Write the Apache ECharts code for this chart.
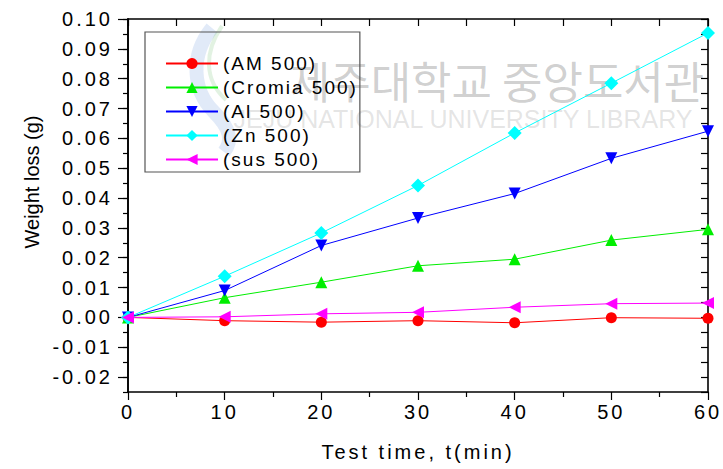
<!DOCTYPE html>
<html><head><meta charset="utf-8">
<script src="https://cdn.jsdelivr.net/npm/echarts@6/dist/echarts.min.js"></script>
<style>
html,body{margin:0;padding:0;background:#fff}
#main{width:723px;height:469px}
#main text[style*="20px"]:not([style*="Arial"]){letter-spacing:3px}
#main text[style*="19px"]{letter-spacing:2px}
</style></head><body><div id="main"></div>
<script>
const times = [0, 10, 20, 30, 40, 50, 60];
const seriesNames = ['(AM 500)', '(Cromia 500)', '(Al 500)', '(Zn 500)', '(sus 500)'];
const am500 = [0, -0.0011, -0.0016, -0.0011, -0.0018, -0.0001, -0.0003];
const cromia500 = [0, 0.0066, 0.0118, 0.0173, 0.0195, 0.0259, 0.0295];
const al500 = [0, 0.0090, 0.0241, 0.0333, 0.0415, 0.0533, 0.0624];
const zn500 = [0, 0.0138, 0.0283, 0.0442, 0.0618, 0.0785, 0.0953];
const sus500 = [0, 0.0002, 0.0012, 0.0017, 0.0034, 0.0046, 0.0048];
const yTickValues = [-0.02, -0.01, 0, 0.01, 0.02, 0.03, 0.04, 0.05, 0.06, 0.07, 0.08, 0.09, 0.10];
const xTitle = 'Test time, t(min)';
const yTitle = 'Weight loss (g)';
const watermarkKo = '제주대학교 중앙도서관';
const watermarkEn = 'JEJU NATIONAL UNIVERSITY LIBRARY';

const colors = ['#ff0000', '#00ee00', '#0000ff', '#00ffff', '#ff00ff'];
const values = [am500, cromia500, al500, zn500, sus500];
const symbols = ['circle', 'triangle', 'triangle', 'diamond', 'triangle'];
const rotates = [0, 0, 180, 0, 90];
const sizes = [11, 12, 12, 14, 12];

const chart = echarts.init(document.getElementById('main'), null, {renderer: 'svg'});
const FF = 'Liberation Sans';
const axisLine = {show: true, onZero: false, lineStyle: {color: '#000', width: 1.6}};

chart.setOption({
  animation: false,
  backgroundColor: '#fff',
  grid: {left: 128, right: 15, top: 19, bottom: 77},
  legend: {
    orient: 'vertical', left: 145, top: 32,
    padding: [22, 26, 3, 20],
    itemWidth: 52, itemHeight: 14, itemGap: 5,
    borderColor: '#555', borderWidth: 1.2,
    textStyle: {fontFamily: FF, fontSize: 19, color: '#000'},
    data: seriesNames
  },
  xAxis: [
    {type: 'value', position: 'bottom', min: 0, max: 60, interval: 10,
     axisLine: axisLine,
     axisTick: {show: true, inside: false, length: 8, lineStyle: {color: '#000', width: 1.2}},
     minorTick: {show: true, splitNumber: 2, length: 5, lineStyle: {color: '#000', width: 1.2}},
     axisLabel: {margin: 10, color: '#000', fontFamily: FF, fontSize: 20},
     splitLine: {show: false},
     name: xTitle, nameLocation: 'middle', nameGap: 50,
     nameTextStyle: {color: '#000', fontFamily: FF, fontSize: 20}},
    {type: 'value', position: 'top', min: 0, max: 60, interval: 5,
     axisLine: axisLine,
     axisTick: {show: true, inside: true, length: 7, lineStyle: {color: '#000', width: 1.2}},
     axisLabel: {show: false}, splitLine: {show: false}}
  ],
  yAxis: [
    {type: 'value', position: 'left', min: -0.025, max: 0.10, interval: 0.005,
     axisLine: axisLine,
     axisTick: {show: true, inside: false, length: 10, customValues: yTickValues, lineStyle: {color: '#000', width: 1.2}},
     axisLabel: {margin: 15, color: '#000', fontFamily: FF, fontSize: 20, customValues: yTickValues,
       formatter: v => v.toFixed(2)},
     splitLine: {show: false}},
    {type: 'value', position: 'left', min: -0.025, max: 0.10, interval: 0.005,
     axisLine: axisLine,
     axisTick: {show: true, inside: false, length: 5, lineStyle: {color: '#000', width: 1.2}},
     axisLabel: {show: false}, splitLine: {show: false}},
    {type: 'value', position: 'right', min: -0.025, max: 0.10, interval: 0.005,
     axisLine: axisLine,
     axisTick: {show: true, inside: true, length: 7, lineStyle: {color: '#000', width: 1.2}},
     axisLabel: {show: false}, splitLine: {show: false}}
  ],
  graphic: [
    {type: 'bezierCurve', z: 0, silent: true,
     shape: {x1: 212, y1: 28, cpx1: 190, cpy1: 55, cpx2: 192, cpy2: 90, x2: 214, y2: 112},
     style: {fill: 'none', stroke: 'rgba(90,140,215,0.18)', lineWidth: 14}},
    {type: 'bezierCurve', z: 0, silent: true,
     shape: {x1: 214, y1: 112, cpx1: 232, cpy1: 130, cpx2: 232, cpy2: 142, x2: 224, y2: 152},
     style: {fill: 'none', stroke: 'rgba(90,140,215,0.18)', lineWidth: 14}},
    {type: 'bezierCurve', z: 0, silent: true,
     shape: {x1: 222, y1: 26, cpx1: 204, cpy1: 52, cpx2: 204, cpy2: 80, x2: 226, y2: 100},
     style: {fill: 'none', stroke: 'rgba(110,190,110,0.2)', lineWidth: 4}},
    {type: 'text', x: 497, y: 80, z: 0, silent: true,
     style: {text: watermarkKo, fontFamily: 'Noto Sans CJK KR', fontSize: 44, fill: 'rgba(110,110,110,0.33)', textAlign: 'center', textVerticalAlign: 'middle'}},
    {type: 'text', x: 463, y: 119, z: 0, silent: true,
     style: {text: watermarkEn, fontFamily: FF, fontSize: 25, fill: 'rgba(120,120,120,0.2)', textAlign: 'center', textVerticalAlign: 'middle'}},
    {type: 'text', x: 32, y: 182, rotation: Math.PI / 2, z: 10,
     style: {text: yTitle, fontFamily: 'Arial', fontSize: 20, fill: '#000', textAlign: 'center', textVerticalAlign: 'middle'}}
  ],
  series: seriesNames.map((n, i) => ({
    name: n, type: 'line', xAxisIndex: 0, yAxisIndex: 0,
    data: times.map((t, j) => [t, values[i][j]]),
    symbol: symbols[i], symbolRotate: rotates[i], symbolSize: sizes[i],
    lineStyle: {color: colors[i], width: 1},
    itemStyle: {color: colors[i]},
    z: 3 + i
  }))
});
</script></body></html>
